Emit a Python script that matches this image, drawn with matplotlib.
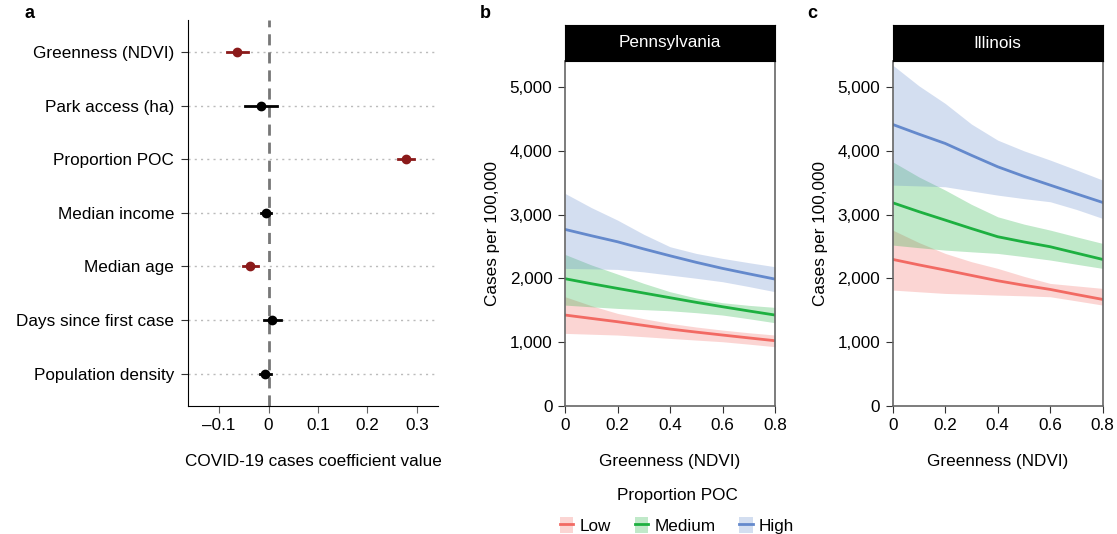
import numpy as np
import matplotlib.pyplot as plt
from matplotlib.ticker import FuncFormatter
from matplotlib.lines import Line2D
from matplotlib.patches import Patch
from matplotlib.legend_handler import HandlerTuple

plt.rcParams['font.family'] = ['Liberation Sans', 'DejaVu Sans']

# panel a: coefficient estimates
variables = ["Greenness (NDVI)", "Park access (ha)", "Proportion POC", "Median income",
             "Median age", "Days since first case", "Population density"]
coef = [-0.063, -0.015, 0.279, -0.005, -0.037, 0.008, -0.007]
ci_low = [-0.085, -0.047, 0.263, -0.015, -0.051, -0.009, -0.017]
ci_high = [-0.042, 0.018, 0.294, 0.005, -0.022, 0.025, 0.004]
significant = [True, False, True, False, True, False, False]

# panels b, c: predicted cases vs greenness
ndvi = [0, 0.1, 0.2, 0.3, 0.4, 0.5, 0.6, 0.7, 0.8]
groups = ["Low", "Medium", "High"]
pa_fit = {"Low": [1423, 1370, 1318, 1260, 1203, 1155, 1109, 1064, 1020],
          "Medium": [1993, 1915, 1841, 1768, 1695, 1622, 1553, 1487, 1423],
          "High": [2767, 2668, 2573, 2460, 2353, 2250, 2155, 2070, 1987]}
pa_lo = {"Low": [1135, 1122, 1109, 1083, 1056, 1030, 1004, 966, 926],
         "Medium": [1579, 1552, 1527, 1508, 1490, 1460, 1423, 1365, 1302],
         "High": [2155, 2148, 2139, 2100, 2050, 2000, 1946, 1870, 1789]}
pa_hi = {"Low": [1710, 1570, 1449, 1365, 1292, 1235, 1187, 1145, 1109],
         "Medium": [2374, 2210, 2066, 1920, 1789, 1690, 1616, 1575, 1543],
         "High": [3332, 3110, 2913, 2690, 2495, 2390, 2312, 2245, 2181]}
il_fit = {"Low": [2296, 2210, 2129, 2045, 1961, 1890, 1825, 1745, 1668],
          "Medium": [3185, 3045, 2913, 2780, 2652, 2570, 2495, 2395, 2296],
          "High": [4414, 4262, 4116, 3930, 3750, 3600, 3462, 3325, 3190]}
il_lo = {"Low": [1815, 1788, 1762, 1750, 1736, 1725, 1710, 1645, 1579],
         "Medium": [2521, 2480, 2442, 2415, 2390, 2340, 2286, 2220, 2155],
         "High": [3462, 3450, 3436, 3370, 3305, 3250, 3201, 3080, 2939]}
il_hi = {"Low": [2756, 2560, 2390, 2260, 2155, 2030, 1919, 1880, 1841],
         "Medium": [3828, 3590, 3384, 3160, 2965, 2850, 2756, 2650, 2547],
         "High": [5345, 5020, 4744, 4420, 4168, 4000, 3855, 3700, 3541]}

colors = {"Low": "#F26A63", "Medium": "#1DB040", "High": "#6489CC"}

W, H = 1117, 534
fig = plt.figure(figsize=(W / 100, H / 100), dpi=100)


def px_axes(x0, y0, x1, y1):
    return fig.add_axes([x0 / W, 1 - y1 / H, (x1 - x0) / W, (y1 - y0) / H])


fs = 12.3

# ---- panel a
ax = px_axes(188, 20, 438, 405.7)
ypos = np.arange(len(variables))[::-1] + 1
for i, v in enumerate(variables):
    ax.axhline(ypos[i], color="#bbbbbb", ls=(0, (1.5, 3)), lw=1, zorder=0)
ax.axvline(0, color="#777777", ls=(0, (4, 2.5)), lw=2, zorder=1)
for i in range(len(variables)):
    c = "#8B1A1A" if significant[i] else "black"
    ax.plot([ci_low[i], ci_high[i]], [ypos[i], ypos[i]], color=c, lw=2, zorder=2)
    ax.plot(coef[i], ypos[i], "o", color=c, ms=6, zorder=3)
ax.set_yticks(ypos)
ax.set_yticklabels(variables, fontsize=fs)
ax.set_ylim(0.4, 7.6)
ax.set_xlim(-0.163, 0.343)
ax.set_xticks([-0.1, 0, 0.1, 0.2, 0.3])
ax.set_xticklabels(["\u20130.1", "0", "0.1", "0.2", "0.3"], fontsize=fs)
ax.set_xlabel("COVID-19 cases coefficient value", fontsize=fs, labelpad=15)
for s in ["top", "right"]:
    ax.spines[s].set_visible(False)
ax.tick_params(axis="x", length=5, color="#666666", pad=4)
ax.tick_params(axis="y", length=5, color="#333333", pad=5)
fig.text(24 / W, 1 - 18 / H, "a", fontsize=13, fontweight="bold")


def cases_panel(x0, x1, title, fit, lo, hi, letter):
    ax = px_axes(x0, 61, x1, 405.7)
    for g in groups:
        ax.fill_between(ndvi, lo[g], hi[g], color=colors[g], alpha=0.28, lw=0)
    for g in groups:
        ax.plot(ndvi, fit[g], color=colors[g], lw=2)
    ax.set_xlim(0, 0.8)
    ax.set_ylim(0, 5410)
    ax.set_xticks([0, 0.2, 0.4, 0.6, 0.8])
    ax.set_xticklabels(["0", "0.2", "0.4", "0.6", "0.8"], fontsize=fs)
    ax.set_yticks([0, 1000, 2000, 3000, 4000, 5000])
    ax.yaxis.set_major_formatter(FuncFormatter(lambda v, p: f"{int(v):,}"))
    ax.tick_params(labelsize=fs, length=5, color="#333333", pad=4)
    for s in ["left", "right", "bottom", "top"]:
        ax.spines[s].set_color("#666666")
        ax.spines[s].set_linewidth(1.2)
    ax.spines["top"].set_visible(False)
    ax.set_xlabel("Greenness (NDVI)", fontsize=fs, labelpad=15)
    ax.set_ylabel("Cases per 100,000", fontsize=fs, labelpad=7)
    strip = px_axes(x0, 25, x1, 61)
    strip.set_facecolor("black")
    strip.set_xticks([])
    strip.set_yticks([])
    strip.text(0.5, 0.5, title, color="white", ha="center", va="center",
               fontsize=fs, transform=strip.transAxes)
    fig.text((x0 - 85) / W, 1 - 18 / H, letter, fontsize=13, fontweight="bold")
    return ax


cases_panel(565, 775, "Pennsylvania", pa_fit, pa_lo, pa_hi, "b")
cases_panel(892.7, 1102.7, "Illinois", il_fit, il_lo, il_hi, "c")

# legend
handles = []
for g in groups:
    handles.append((Patch(facecolor=colors[g], alpha=0.28, lw=0),
                    Line2D([], [], color=colors[g], lw=2)))
leg = fig.legend(handles, groups, loc="center", bbox_to_anchor=(677 / W, 1 - 511 / H),
                 ncol=3, frameon=False, fontsize=fs, title="Proportion POC",
                 title_fontsize=fs, handlelength=0.8, handleheight=1.1,
                 columnspacing=1.4, handletextpad=0.35, borderpad=0.2,
                 handler_map={tuple: HandlerTuple(ndivide=1)})
leg._legend_box.sep = 10

fig.savefig("out.png", dpi=100)
